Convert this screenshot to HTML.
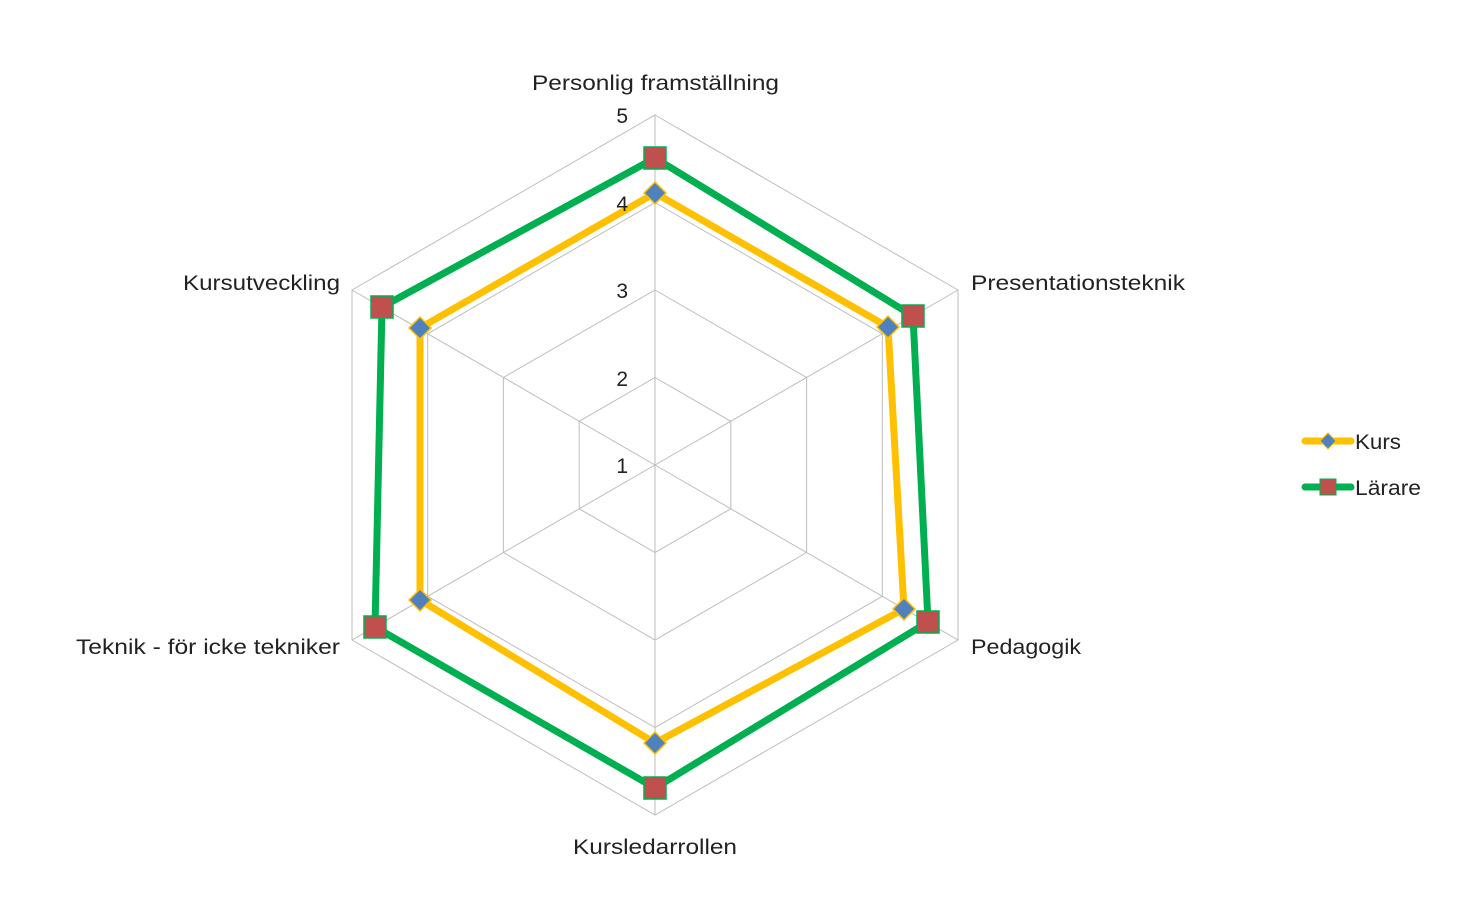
<!DOCTYPE html>
<html><head><meta charset="utf-8"><style>
html,body{margin:0;padding:0;background:#fff;}
svg{display:block;font-family:"Liberation Sans",Calibri,sans-serif;}
</style></head><body>
<svg width="1482" height="906" viewBox="0 0 1482 906" xmlns="http://www.w3.org/2000/svg">
<g fill="none" stroke="#bdbdbd" stroke-width="1">
<polygon points="655,115 958,290 958,640 655,815 352,640 352,290"/>
<polygon points="655,202.5 882.3,333.8 882.3,596.3 655,727.5 427.7,596.3 427.7,333.8"/>
<polygon points="655,290 806.6,377.5 806.6,552.5 655,640 503.4,552.5 503.4,377.5"/>
<polygon points="655,377.5 730.8,421.3 730.8,508.8 655,552.5 579.2,508.8 579.2,421.3"/>
<line x1="655" y1="465" x2="655" y2="115"/>
<line x1="655" y1="465" x2="958" y2="290"/>
<line x1="655" y1="465" x2="958" y2="640"/>
<line x1="655" y1="465" x2="655" y2="815"/>
<line x1="655" y1="465" x2="352" y2="640"/>
<line x1="655" y1="465" x2="352" y2="290"/>
</g>
<g font-size="21" fill="#222" lengthAdjust="spacingAndGlyphs">
<text x="532" y="90" textLength="247" lengthAdjust="spacingAndGlyphs">Personlig framställning</text>
<text x="971" y="290" textLength="214" lengthAdjust="spacingAndGlyphs">Presentationsteknik</text>
<text x="971" y="654" textLength="110" lengthAdjust="spacingAndGlyphs">Pedagogik</text>
<text x="573" y="854" textLength="164" lengthAdjust="spacingAndGlyphs">Kursledarrollen</text>
<text x="76" y="654" textLength="264" lengthAdjust="spacingAndGlyphs">Teknik - för icke tekniker</text>
<text x="183" y="290" textLength="157" lengthAdjust="spacingAndGlyphs">Kursutveckling</text>
</g>
<polygon points="655,158 913,316 928,622 655,788 375,627 382,307" fill="none" stroke="#00b050" stroke-width="7" stroke-linejoin="round"/>
<polygon points="655,193 888,327 904,609 655,743 420,600 420,328" fill="none" stroke="#ffc000" stroke-width="7" stroke-linejoin="round"/>
<g fill="#c0504d" stroke="#00b050" stroke-width="1.5">
<rect x="644" y="147" width="22" height="22"/><rect x="902" y="305" width="22" height="22"/>
<rect x="917" y="611" width="22" height="22"/><rect x="644" y="777" width="22" height="22"/>
<rect x="364" y="616" width="22" height="22"/><rect x="371" y="296" width="22" height="22"/>
</g>
<g fill="#4f81bd" stroke="#ffc000" stroke-width="1.5">
<polygon points="655,182 666,193 655,204 644,193"/><polygon points="888,316 899,327 888,338 877,327"/>
<polygon points="904,598 915,609 904,620 893,609"/><polygon points="655,732 666,743 655,754 644,743"/>
<polygon points="420,589 431,600 420,611 409,600"/><polygon points="420,317 431,328 420,339 409,328"/>
</g>
<g font-size="21" fill="#222" text-anchor="end">
<text x="628" y="123">5</text><text x="628" y="211">4</text><text x="628" y="298">3</text><text x="628" y="386">2</text><text x="628" y="473">1</text>
</g>
<line x1="1305" y1="441" x2="1351" y2="441" stroke="#ffc000" stroke-width="7" stroke-linecap="round"/>
<polygon points="1328,433 1336,441 1328,449 1320,441" fill="#4f81bd" stroke="#ffc000" stroke-width="1"/>
<line x1="1305" y1="487" x2="1351" y2="487" stroke="#00b050" stroke-width="7" stroke-linecap="round"/>
<rect x="1320" y="479" width="16" height="16" fill="#c0504d" stroke="#00b050" stroke-width="1"/>
<g font-size="21" fill="#222">
<text x="1355" y="449" textLength="46" lengthAdjust="spacingAndGlyphs">Kurs</text><text x="1355" y="495" textLength="66" lengthAdjust="spacingAndGlyphs">Lärare</text>
</g>
</svg>
</body></html>
